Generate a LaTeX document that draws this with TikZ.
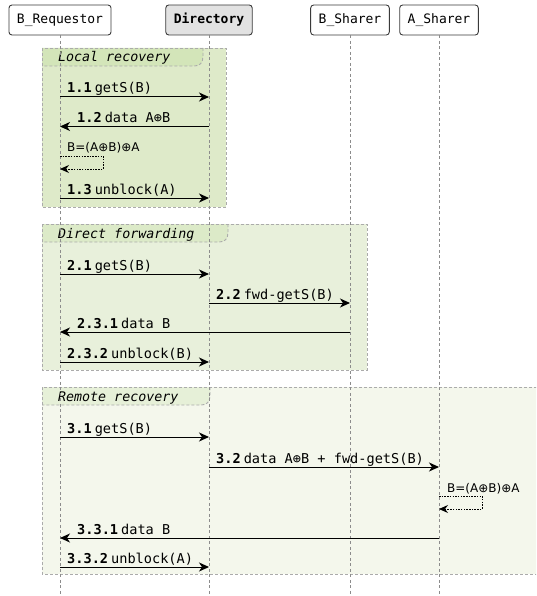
\documentclass[tikz,border=0pt]{standalone}
\usepackage{fontspec}
\setmonofont{DejaVu Sans Mono}
\newfontfamily\selffont{DejaVu Sans}
\usetikzlibrary{arrows.meta}
\definecolor{gOneBody}{HTML}{DEEAC9}
\definecolor{gOneTab}{HTML}{D3E5B9}
\definecolor{gTwoBody}{HTML}{E8F0DB}
\definecolor{gTwoTab}{HTML}{DCEAC8}
\definecolor{gThreeBody}{HTML}{F4F7EC}
\definecolor{gThreeTab}{HTML}{E6F0D8}
\definecolor{grpLine}{HTML}{ABABAB}
\definecolor{lifeLine}{HTML}{8C8C8C}
\definecolor{partLine}{HTML}{3A3A3A}
\definecolor{dirFill}{HTML}{E2E2E2}
\begin{document}
\begin{tikzpicture}[x=1pt,y=-1pt,
  part/.style={draw=partLine, line width=0.9pt, rounded corners=3pt, fill=white,
    minimum height=30pt, inner xsep=8pt, inner ysep=0pt, font=\ttfamily\fontsize{13}{15}\selectfont},
  life/.style={draw=lifeLine, line width=0.8pt, dash pattern=on 3pt off 2.5pt},
  grpbox/.style={draw=grpLine, line width=0.9pt, dash pattern=on 3pt off 2pt},
  msg/.style={draw=black, line width=1pt, -{Stealth[length=10pt,width=9pt,inset=3pt]}},
  selfmsg/.style={draw=black, line width=0.9pt, dash pattern=on 1.5pt off 1.2pt,
    -{Stealth[length=9pt,width=8pt,inset=3pt]}},
  lbl/.style={anchor=base west, inner sep=0pt, font=\ttfamily\fontsize{13.6}{15}\selectfont},
  slbl/.style={anchor=base west, inner sep=0pt, font=\selffont\fontsize{12}{14}\selectfont},
  gtitle/.style={anchor=base west, inner sep=0pt, font=\ttfamily\itshape\fontsize{13.3}{15}\selectfont}
]
\useasboundingbox (0,0) rectangle (536,596);
\clip (0,0) rectangle (536,596);

% ---------- groups ----------
% group 1
\fill[gOneBody] (42,48) rectangle (226,207);
\fill[gOneTab] (42,48) -- (203,48) -- (203,56) .. controls (203,63) and (200,66) .. (194,66) -- (42,66) -- cycle;
\draw[grpbox] (203,48) -- (203,56) .. controls (203,63) and (200,66) .. (194,66) -- (42,66);
\draw[grpbox] (42,48) rectangle (226,207);
\node[gtitle] (g1t) at (58,61.5) {Local recovery};
% group 2
\fill[gTwoBody] (42,224) rectangle (367,370);
\fill[gTwoTab] (42,224) -- (228,224) -- (228,232) .. controls (228,239) and (225,242) .. (219,242) -- (42,242) -- cycle;
\draw[grpbox] (228,224) -- (228,232) .. controls (228,239) and (225,242) .. (219,242) -- (42,242);
\draw[grpbox] (42,224) rectangle (367,370);
\node[gtitle] (g2t) at (58,238.5) {Direct forwarding};
% group 3
\fill[gThreeBody] (42,387) rectangle (545,574);
\fill[gThreeTab] (42,387) -- (210,387) -- (210,395) .. controls (210,402) and (207,405) .. (201,405) -- (42,405) -- cycle;
\draw[grpbox] (210,387) -- (210,395) .. controls (210,402) and (207,405) .. (201,405) -- (42,405);
\draw[grpbox] (42,387) rectangle (545,574);
\node[gtitle] (g3t) at (58,401.5) {Remote recovery};

% ---------- participants ----------
\node[part] (br) at (60,20) {B\_Requestor};
\node[part, fill=dirFill, font=\ttfamily\bfseries\fontsize{13}{15}\selectfont] (dir) at (209,20) {Directory};
\node[part] (bs) at (350,20) {B\_Sharer};
\node[part] (as) at (439,20) {A\_Sharer};
\coordinate (brEnd) at (60,600);
\coordinate (dirEnd) at (209,600);
\coordinate (bsEnd) at (350,600);
\coordinate (asEnd) at (439,600);
\draw[life] (br.south) -- (brEnd);
\draw[life] (dir.south) -- (dirEnd);
\draw[life] (bs.south) -- (bsEnd);
\draw[life] (as.south) -- (asEnd);

% ---------- group 1 messages ----------
\draw[msg] (br |- 0,97) -- (dir |- 0,97);
\node[lbl] (l11) at (67,93) {\textbf{1.1}\hspace{3pt}getS(B)};
\draw[msg] (dir |- 0,126.5) -- (br |- 0,126.5);
\node[lbl] (l12) at (77,122.5) {\textbf{1.2}\hspace{3pt}data A⊕B};
\node[slbl] (s1) at (67,151.5) {B=(A⊕B)⊕A};
\draw[selfmsg] (br |- 0,156) -- (103,156) -- (103,169) -- (br |- 0,169);
\draw[msg] (br |- 0,198) -- (dir |- 0,198);
\node[lbl] (l13) at (67,194) {\textbf{1.3}\hspace{3pt}unblock(A)};

% ---------- group 2 messages ----------
\draw[msg] (br |- 0,274) -- (dir |- 0,274);
\node[lbl] (l21) at (67,270) {\textbf{2.1}\hspace{3pt}getS(B)};
\draw[msg] (dir |- 0,303) -- (bs |- 0,303);
\node[lbl] (l22) at (216,299) {\textbf{2.2}\hspace{3pt}fwd-getS(B)};
\draw[msg] (bs |- 0,332) -- (br |- 0,332);
\node[lbl] (l231) at (77,328) {\textbf{2.3.1}\hspace{3pt}data B};
\draw[msg] (br |- 0,362) -- (dir |- 0,362);
\node[lbl] (l232) at (67,358) {\textbf{2.3.2}\hspace{3pt}unblock(B)};

% ---------- group 3 messages ----------
\draw[msg] (br |- 0,437) -- (dir |- 0,437);
\node[lbl] (l31) at (67,433) {\textbf{3.1}\hspace{3pt}getS(B)};
\draw[msg] (dir |- 0,467) -- (as |- 0,467);
\node[lbl] (l32) at (216,463) {\textbf{3.2}\hspace{3pt}data A⊕B + fwd-getS(B)};
\node[slbl] (s3) at (447,492.5) {B=(A⊕B)⊕A};
\draw[selfmsg] (as |- 0,496) -- (482,496) -- (482,509) -- (as |- 0,509);
\draw[msg] (as |- 0,538) -- (br |- 0,538);
\node[lbl] (l331) at (77,534) {\textbf{3.3.1}\hspace{3pt}data B};
\draw[msg] (br |- 0,567) -- (dir |- 0,567);
\node[lbl] (l332) at (67,563) {\textbf{3.3.2}\hspace{3pt}unblock(A)};
\end{tikzpicture}
\end{document}
